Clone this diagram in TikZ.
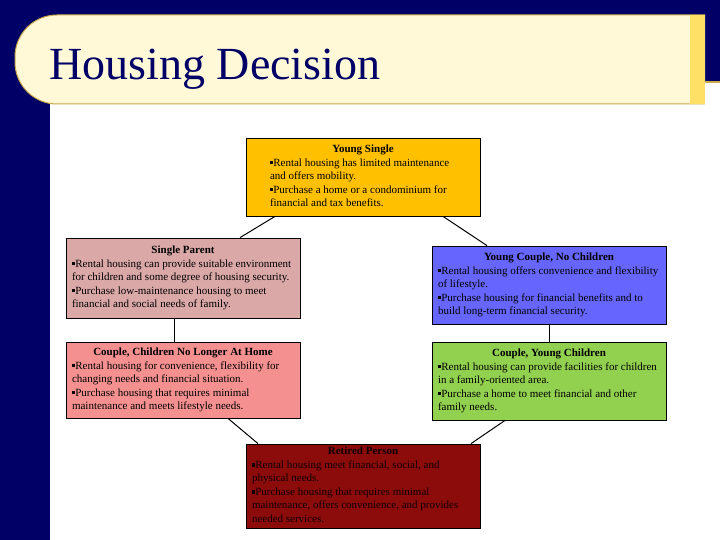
\documentclass[tikz,border=0pt]{standalone}
\usepackage{fontspec}
\setmainfont{Liberation Serif}
\definecolor{navy}{HTML}{000066}
\definecolor{cream}{HTML}{FFF9D8}
\definecolor{goldline}{HTML}{C9A94A}
\definecolor{stripe}{HTML}{FFE066}
\definecolor{ysfill}{HTML}{FFC000}
\definecolor{spfill}{HTML}{DBA8A8}
\definecolor{ycfill}{HTML}{6666FF}
\definecolor{cnfill}{HTML}{F49190}
\definecolor{cyfill}{HTML}{92D050}
\definecolor{rpfill}{HTML}{8C0C0C}
\newcommand{\bul}{\rule[0.35ex]{0.3em}{0.3em}}
\newcommand{\boxtext}[3][222pt]{\fontsize{11}{13.5}\selectfont\begin{tabular}{@{}p{#1}@{}}\multicolumn{1}{c}{\textbf{#2}}\\ #3\end{tabular}}
\begin{document}
\begin{tikzpicture}[x=1pt,y=-1pt,
	lifebox/.style={draw=black,line width=0.8pt,minimum width=234pt,inner sep=0pt,text=black},
	link/.style={draw=black,line width=1pt}]
	\useasboundingbox (0,0) rectangle (720,540);
	% background and title banner
	\fill[navy] (0,0) rectangle (720,540);
	\fill[white] (50,104.5) rectangle (720,540);
	\fill[white] (705,82) rectangle (720,105);
	\draw[goldline,line width=1.2pt] (705,82) -- (720,82);
	\filldraw[fill=cream,draw=goldline,line width=1pt,rounded corners=42pt] (705,15) -- (15,15) -- (15,104) -- (705,104);
	\fill[stripe] (690,15) rectangle (705,104);
	\node[anchor=base west,text=navy,font=\fontsize{46}{50}\selectfont] (title) at (46,80) {Housing Decision};
	% life stages
	\node[lifebox,fill=ysfill,minimum height=78pt] (ys) at (363,177) {\boxtext[186pt]{Young Single}{\bul Rental housing has limited maintenance\\ and offers mobility.\\ \bul Purchase a home or a condominium for\\ financial and tax benefits.}};
	\node[lifebox,fill=spfill,minimum height=80pt] (sp) at (183,278) {\boxtext{Single Parent}{\bul Rental housing can provide suitable environment\\ for children and some degree of housing security.\\ \bul Purchase low-maintenance housing to meet\\ financial and social needs of family.}};
	\node[lifebox,fill=ycfill,minimum height=78pt] (yc) at (549,285) {\boxtext{Young Couple, No Children}{\bul Rental housing offers convenience and flexibility\\ of lifestyle.\\ \bul Purchase housing for financial benefits and to\\ build long-term financial security.}};
	\node[lifebox,fill=cnfill,minimum height=76pt] (cn) at (183,380) {\boxtext{Couple, Children No Longer At Home}{\bul Rental housing for convenience, flexibility for\\ changing needs and financial situation.\\ \bul Purchase housing that requires minimal\\ maintenance and meets lifestyle needs.}};
	\node[lifebox,fill=cyfill,minimum height=78pt] (cy) at (549,381) {\boxtext{Couple, Young Children}{\bul Rental housing can provide facilities for children\\ in a family-oriented area.\\ \bul Purchase a home to meet financial and other\\ family needs.}};
	\node[lifebox,fill=rpfill,minimum height=84pt,text=black!90!rpfill] (rp) at (363,486) {\boxtext{Retired Person}{\bul Rental housing meet financial, social, and\\ physical needs.\\ \bul Purchase housing that requires minimal\\ maintenance, offers convenience, and provides\\ needed services.}};
	% links
	\draw[link] ([xshift=-88pt]ys.south) -- ([xshift=57pt]sp.north);
	\draw[link] ([xshift=80pt]ys.south) -- ([xshift=-62pt]yc.north);
	\draw[link] ([xshift=-9pt]sp.south) -- ([xshift=-9pt]cn.north);
	\draw[link] (yc.south) -- (cy.north);
	\draw[link] ([xshift=45pt]cn.south) -- ([xshift=-105pt]rp.north);
	\draw[link] ([xshift=-44pt]cy.south) -- ([xshift=108pt]rp.north);
\end{tikzpicture}
\end{document}
